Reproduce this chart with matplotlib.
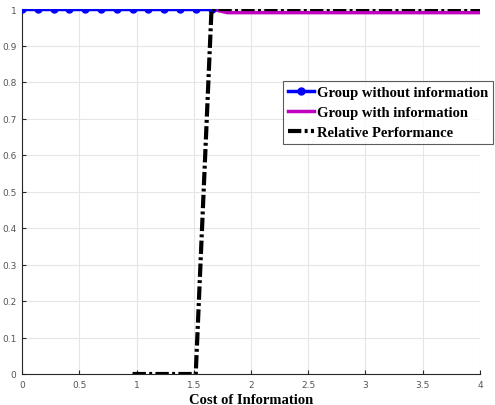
import numpy as np
import matplotlib.pyplot as plt

# cost of information grid (30 points from 0 to 4)
cost = np.linspace(0, 4, 30)

no_info = [1, 1, 1, 1, 1, 1, 1, 1, 1, 1, 1, 1, 1]
with_info = [1, 1, 1, 1, 1, 1] + [0.99] * 17
relative = [0, 0, 0, 0, 0] + [1] * 18

fig = plt.figure(figsize=(4.95, 4.06), dpi=100)
ax = fig.add_axes([22 / 495, 31 / 406, 458 / 495, 365 / 406])

ax.plot(cost[:13], no_info, color='#0000ff', lw=2.5, marker='o', ms=5,
        label='Group without information', zorder=3)
ax.plot(cost[7:], with_info, color='#bf00bf', lw=2.5,
        label='Group with information', zorder=2)
ax.plot(cost[7:], relative, color='black', lw=3, ls=(0, (3.2, 0.8, 0.7, 0.8)),
        label='Relative Performance', zorder=4)

ax.set_xlim(0, 4)
ax.set_ylim(0, 1)
ax.set_xticks(np.arange(0, 4.01, 0.5))
ax.set_xticklabels(['0', '0.5', '1', '1.5', '2', '2.5', '3', '3.5', '4'])
ax.set_yticks(np.arange(0, 1.01, 0.1))
ax.set_yticklabels(['0', '0.1', '0.2', '0.3', '0.4', '0.5', '0.6', '0.7', '0.8', '0.9', '1'])
ax.tick_params(direction='in', length=3, labelsize=6.5, colors='#262626',
               labelcolor='#555555', pad=4)
ax.grid(True, color='#e6e6e6', lw=0.8)
ax.set_axisbelow(True)
for s in ['top', 'right']:
    ax.spines[s].set_visible(False)
for s in ['left', 'bottom']:
    ax.spines[s].set_color('#262626')
    ax.spines[s].set_linewidth(0.8)

ax.set_xlabel('Cost of Information', fontfamily='Liberation Serif',
              fontweight='bold', fontsize=10.5, labelpad=3)

leg = ax.legend(loc='upper left', bbox_to_anchor=(261 / 458, 1 - 72 / 365),
                prop={'family': 'Liberation Serif', 'weight': 'bold', 'size': 10.5},
                frameon=True, fancybox=False, handlelength=1.8,
                handletextpad=0.15, borderpad=0.35, labelspacing=0.45,
                borderaxespad=0)
leg.get_frame().set_edgecolor('#333333')
leg.get_frame().set_linewidth(0.8)

fig.savefig('out.png', dpi=100)
